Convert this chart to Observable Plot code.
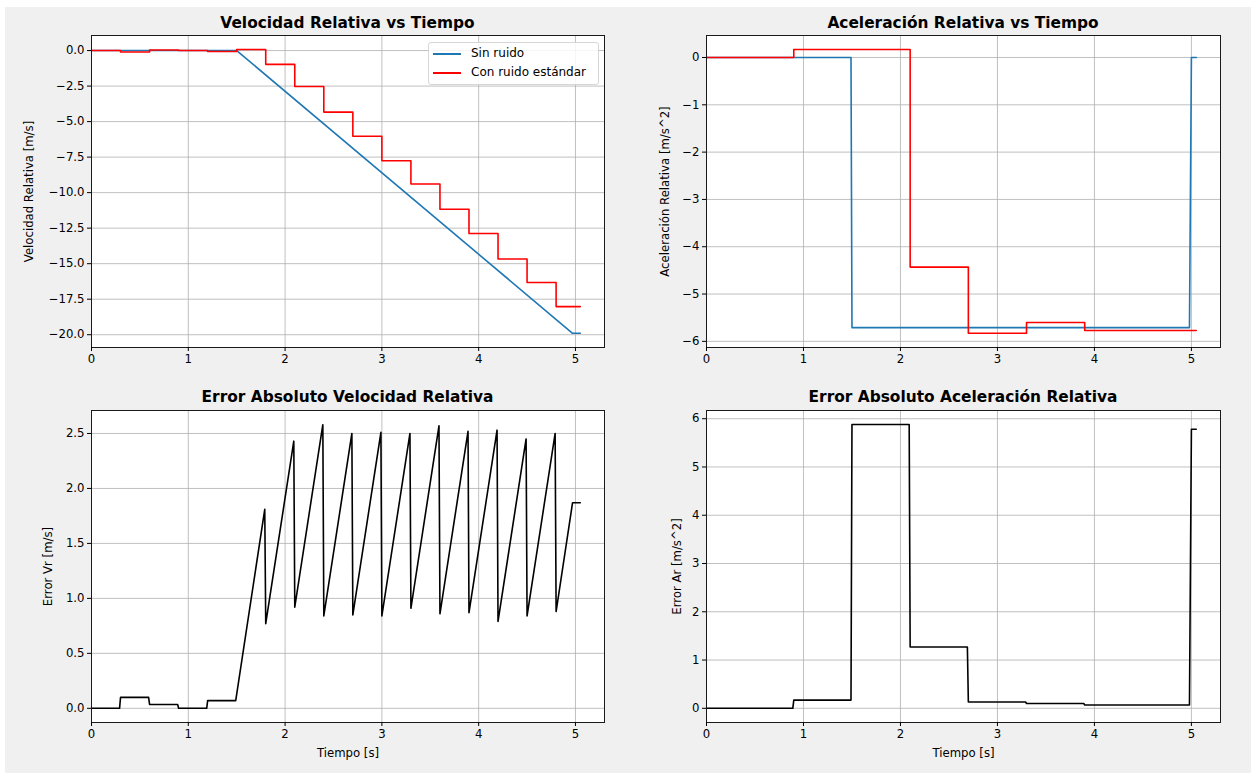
<!DOCTYPE html>
<html><head><meta charset="utf-8">
<script src="https://cdn.jsdelivr.net/npm/d3@7"></script>
<script src="https://cdn.jsdelivr.net/npm/@observablehq/plot@0.6"></script>
<style>
html,body{margin:0;padding:0;background:#fff;width:1251px;height:773px;overflow:hidden;font-family:"DejaVu Sans",sans-serif;}
#fig{position:absolute;left:5px;top:7px;width:1246px;height:766px;background:#f0f0f0;}
.panel{position:absolute;}
.title{position:absolute;font-weight:bold;font-size:15.4px;text-align:center;color:#000;white-space:nowrap;transform:translateX(-50%);}
#legend{position:absolute;left:428px;top:43px;width:169px;height:41px;background:rgba(255,255,255,0.85);border:1px solid #d6d6d6;border-radius:3px;font-size:12px;color:#000;}
.row{position:absolute;left:4px;height:16px;line-height:16px;white-space:nowrap;}
.sw{display:inline-block;width:28px;height:0;border-top:2px solid;vertical-align:middle;margin-right:10px;}
</style></head><body>
<div id="fig"></div>
<script>
// ---- Data ----
// Velocidad relativa, sin ruido
const tVelSin = [0, 1.5, 4.97, 5.05];
const velSin = [0, 0, -19.9, -19.9];
// Velocidad relativa, con ruido estándar (step-after, muestreo cada 0.3 s)
const tVelRuido = [0, 0.3, 0.6, 0.9, 1.2, 1.5, 1.8, 2.1, 2.4, 2.7, 3.0, 3.3, 3.6, 3.9, 4.2, 4.5, 4.8, 5.05];
const velRuido = [0, -0.10, 0.035, 0, -0.07, 0.07, -0.97, -2.53, -4.33, -6.03, -7.76, -9.39, -11.17, -12.88, -14.67, -16.33, -18.02, -18.02];
// Aceleración relativa, sin ruido
const tAccSin = [0, 1.49, 1.5, 4.98, 5.0, 5.05];
const accSin = [0, 0, -5.71, -5.71, 0, 0];
// Aceleración relativa, con ruido estándar (step-after)
const tAccRuido = [0, 0.9, 2.1, 2.7, 3.3, 3.9, 5.05];
const accRuido = [0, 0.17, -4.43, -5.83, -5.6, -5.77, -5.77];
// Error absoluto velocidad relativa
const tErrVel = [0, 0.29, 0.3, 0.59, 0.6, 0.89, 0.9, 1.19, 1.2, 1.49, 1.79, 1.8, 2.09, 2.1, 2.39, 2.4, 2.69, 2.7, 2.99, 3.0, 3.29, 3.3, 3.59, 3.6, 3.89, 3.9, 4.19, 4.2, 4.49, 4.5, 4.79, 4.8, 4.97, 5.05];
const errVel = [0, 0, 0.10, 0.10, 0.035, 0.035, 0, 0, 0.07, 0.07, 1.81, 0.77, 2.43, 0.92, 2.58, 0.84, 2.50, 0.85, 2.51, 0.84, 2.50, 0.91, 2.57, 0.86, 2.52, 0.87, 2.53, 0.79, 2.45, 0.84, 2.50, 0.88, 1.87, 1.87];
// Error absoluto aceleración relativa
const tErrAcc = [0, 0.89, 0.9, 1.49, 1.5, 2.09, 2.1, 2.69, 2.7, 3.29, 3.3, 3.89, 3.9, 4.98, 5.0, 5.05];
const errAcc = [0, 0, 0.17, 0.17, 5.88, 5.88, 1.27, 1.27, 0.13, 0.13, 0.10, 0.10, 0.07, 0.07, 5.78, 5.78];

const xTicks = [0, 1, 2, 3, 4, 5];
const yTicksVel = [0, -2.5, -5, -7.5, -10, -12.5, -15, -17.5, -20];
const yTicksAcc = [0, -1, -2, -3, -4, -5, -6];
const yTicksErrVel = [0, 0.5, 1, 1.5, 2, 2.5];
const yTicksErrAcc = [0, 1, 2, 3, 4, 5, 6];

const titles = ["Velocidad Relativa vs Tiempo", "Aceleración Relativa vs Tiempo", "Error Absoluto Velocidad Relativa", "Error Absoluto Aceleración Relativa"];
const legendLabels = ["Sin ruido", "Con ruido estándar"];

const BLUE = "#1f77b4", RED = "#ff0000", BLACK = "#000000";
const pts = (ts, vs) => ts.map((t, i) => ({t, v: vs[i]}));

const fig = document.getElementById("fig");

function panel({left, top, width, height, mt, mb, ml, mr, ydomain, yticks, yfmt, ylabel, ylabelOffset, xlabel, lines}) {
  const marks = [
    Plot.frame({fill: "white", stroke: null}),
    Plot.gridX(xTicks, {stroke: "#b0b0b0", strokeOpacity: 1, strokeWidth: 0.8}),
    Plot.gridY(yticks, {stroke: "#b0b0b0", strokeOpacity: 1, strokeWidth: 0.8}),
    ...lines.map(l => Plot.line(l.data, {x: "t", y: "v", stroke: l.color, strokeWidth: 1.6, curve: l.curve || "linear"})),
    Plot.frame({stroke: "#1a1a1a", strokeWidth: 1}),
    Plot.axisX(xTicks, {tickSize: 4, tickPadding: 3, fontSize: 11.7, label: xlabel, labelAnchor: "center", labelArrow: "none", labelOffset: 34, tickFormat: d3.format("d")}),
    Plot.axisY(yticks, {tickSize: 4, tickPadding: 3, fontSize: 11.7, tickFormat: yfmt, label: ylabel, labelAnchor: "center", labelArrow: "none", labelOffset: ylabelOffset})
  ];
  const svg = Plot.plot({
    width, height,
    marginTop: mt, marginBottom: mb, marginLeft: ml, marginRight: mr,
    x: {domain: [0, 5.3]},
    y: {domain: ydomain},
    style: {background: "transparent", color: "black", fontFamily: "DejaVu Sans, sans-serif", fontSize: "11.7px", overflow: "visible"},
    marks
  });
  const wrap = document.createElement("div");
  wrap.className = "panel";
  wrap.style.left = (left - 5) + "px";
  wrap.style.top = (top - 7) + "px";
  wrap.appendChild(svg);
  fig.appendChild(wrap);
}

panel({left: 0, top: 0, width: 620, height: 380, mt: 35, mb: 33, ml: 91, mr: 16,
  ydomain: [-20.9, 1.06], yticks: yTicksVel, yfmt: d3.format(".1f"),
  ylabel: "Velocidad Relativa [m/s]", ylabelOffset: 67, xlabel: null,
  lines: [{data: pts(tVelSin, velSin), color: BLUE}, {data: pts(tVelRuido, velRuido), color: RED, curve: "step-after"}]});

panel({left: 620, top: 0, width: 631, height: 380, mt: 35, mb: 33, ml: 86, mr: 31,
  ydomain: [-6.13, 0.465], yticks: yTicksAcc, yfmt: d3.format("d"),
  ylabel: "Aceleración Relativa [m/s^2]", ylabelOffset: 46, xlabel: null,
  lines: [{data: pts(tAccSin, accSin), color: BLUE}, {data: pts(tAccRuido, accRuido), color: RED, curve: "step-after"}]});

panel({left: 0, top: 380, width: 620, height: 393, mt: 30, mb: 51, ml: 91, mr: 16,
  ydomain: [-0.129, 2.709], yticks: yTicksErrVel, yfmt: d3.format(".1f"),
  ylabel: "Error Vr [m/s]", ylabelOffset: 48, xlabel: "Tiempo [s]",
  lines: [{data: pts(tErrVel, errVel), color: BLACK}]});

panel({left: 620, top: 380, width: 631, height: 393, mt: 30, mb: 51, ml: 86, mr: 31,
  ydomain: [-0.294, 6.17], yticks: yTicksErrAcc, yfmt: d3.format("d"),
  ylabel: "Error Ar [m/s^2]", ylabelOffset: 34, xlabel: "Tiempo [s]",
  lines: [{data: pts(tErrAcc, errAcc), color: BLACK}]});

// Titles
const titlePos = [[347.5, 14], [963, 14], [347.5, 388], [963, 388]];
titles.forEach((t, i) => {
  const d = document.createElement("div");
  d.className = "title";
  d.textContent = t;
  d.style.left = (titlePos[i][0] - 5) + "px";
  d.style.top = (titlePos[i][1] - 7) + "px";
  fig.appendChild(d);
});

// Legend
const lg = document.createElement("div");
lg.id = "legend";
lg.style.left = (428 - 5) + "px";
lg.style.top = (42 - 7) + "px";
[[legendLabels[0], BLUE, 2], [legendLabels[1], RED, 21]].forEach(([lab, col, y]) => {
  const r = document.createElement("div");
  r.className = "row";
  r.style.top = y + "px";
  const s = document.createElement("span");
  s.className = "sw";
  s.style.borderTopColor = col;
  r.appendChild(s);
  r.appendChild(document.createTextNode(lab));
  lg.appendChild(r);
});
fig.appendChild(lg);
</script>
</body></html>
